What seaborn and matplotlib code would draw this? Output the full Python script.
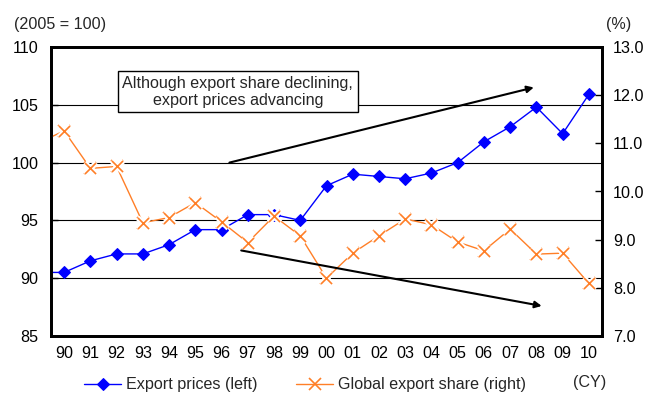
import matplotlib
matplotlib.use("Agg")
import matplotlib.pyplot as plt
import seaborn as sns
import pandas as pd
import numpy as np
from matplotlib.ticker import FixedLocator

sns.set_theme(style="white")
plt.rcParams['font.family'] = ['Liberation Sans', 'DejaVu Sans']

# ---- data ----
years = ["89", "90", "91", "92", "93", "94", "95", "96", "97", "98", "99",
         "00", "01", "02", "03", "04", "05", "06", "07", "08", "09", "10"]
export_prices = [90.5, 90.5, 91.5, 92.1, 92.1, 92.9, 94.2, 94.2, 95.5, 95.5, 95.0,
                 98.0, 99.0, 98.8, 98.6, 99.1, 100.0, 101.8, 103.1, 104.8, 102.5, 105.9]
export_share = [11.0, 11.26, 10.48, 10.52, 9.35, 9.46, 9.77, 9.37, 8.94, 9.49, 9.08,
                8.20, 8.72, 9.08, 9.43, 9.31, 8.95, 8.77, 9.22, 8.70, 8.72, 8.09]
tick_labels = years[1:]
left_ticks = [85, 90, 95, 100, 105, 110]
right_ticks = [7.0, 8.0, 9.0, 10.0, 11.0, 12.0, 13.0]

df = pd.DataFrame({"pos": np.arange(len(years)) - 1,
                   "prices": export_prices, "share": export_share})

BLUE = "#0000FF"
ORANGE = "#FF7F27"
FS = 11.6

fig = plt.figure(figsize=(6.48, 3.94), dpi=100)
ax = fig.add_axes([51/648, 1-336/394, 551/648, 289/394])
ax2 = ax.twinx()

# gridlines on left axis
for v in [90, 95, 100, 105]:
    ax.axhline(v, color="black", lw=0.8, zorder=1)

sns.lineplot(data=df, x="pos", y="prices", ax=ax, color=BLUE, lw=1.0,
             marker="D", markersize=6, markeredgecolor=BLUE, zorder=3,
             label="Export prices (left)", legend=False)
sns.lineplot(data=df, x="pos", y="share", ax=ax2, color=ORANGE, lw=1.0,
             marker="x", markersize=8, markeredgewidth=1.2, markeredgecolor=ORANGE,
             zorder=2, label="Global export share (right)", legend=False)
# white halo around the cross markers, then the markers again on top
sns.scatterplot(data=df, x="pos", y="share", ax=ax2, marker="x", s=70,
                color="white", linewidth=4, zorder=3, legend=False)
sns.scatterplot(data=df, x="pos", y="share", ax=ax2, marker="x", s=64,
                color=ORANGE, linewidth=1.2, zorder=4, legend=False)

ax.set_xlim(-0.5, 20.5)
ax.set_ylim(85, 110)
ax2.set_ylim(7, 13)
ax.set_yticks(left_ticks)
ax.set_yticklabels([str(t) for t in left_ticks], fontsize=FS)
ax2.set_yticks(right_ticks)
ax2.set_yticklabels([f"{t:.1f}" for t in right_ticks], fontsize=FS)
ax.set_xticks(np.arange(len(tick_labels)))
ax.set_xticklabels(tick_labels, fontsize=FS)
ax.xaxis.set_minor_locator(FixedLocator(np.arange(-0.5, 20.6, 1.0)))
ax.tick_params(axis="x", which="major", length=0, pad=7, colors="black")
ax.tick_params(axis="x", which="minor", length=5, direction="in", width=1, color="black")
ax.tick_params(axis="y", length=5, direction="in", width=1, color="black", pad=9, labelcolor="black")
ax2.tick_params(axis="y", length=5, direction="in", width=1, color="black", pad=8, labelcolor="black")
ax.set_xlabel("")
ax.set_ylabel("")
ax2.set_xlabel("")
ax2.set_ylabel("")
for a in (ax, ax2):
    for s in a.spines.values():
        s.set_color("black")
        s.set_linewidth(2)

# annotation arrows
ax2.annotate("", xy=(17.9, 106.5), xytext=(6.3, 100.0), xycoords=ax.transData,
             textcoords=ax.transData,
             arrowprops=dict(arrowstyle="-|>", color="black", lw=1.5,
                             mutation_scale=10, shrinkA=0, shrinkB=0), zorder=5)
ax2.annotate("", xy=(18.2, 87.6), xytext=(6.75, 92.4), xycoords=ax.transData,
             textcoords=ax.transData,
             arrowprops=dict(arrowstyle="-|>", color="black", lw=1.5,
                             mutation_scale=10, shrinkA=0, shrinkB=0), zorder=5)
ax2.text(0.339, 0.845, "Although export share declining,\nexport prices advancing",
         transform=ax.transAxes, ha="center", va="center", fontsize=FS,
         linespacing=1.12, zorder=6,
         bbox=dict(boxstyle="square,pad=0.3", fc="white", ec="black", lw=1))

# axis unit labels
fig.text(14/648, 1-24/394, "(2005 = 100)", ha="left", va="center", fontsize=FS)
fig.text(619/648, 1-24/394, "(%)", ha="center", va="center", fontsize=FS)
fig.text(590/648, 1-382/394, "(CY)", ha="center", va="center", fontsize=FS)

h1, l1 = ax.get_legend_handles_labels()
h2, l2 = ax2.get_legend_handles_labels()
fig.legend(h1 + h2, l1 + l2, loc="center left", bbox_to_anchor=(84/648, 1-385/394),
           ncol=2, frameon=False, fontsize=FS, handlelength=2.3,
           handletextpad=0.3, columnspacing=2.4, borderpad=0, borderaxespad=0)

fig.savefig("out.png", dpi=100)
